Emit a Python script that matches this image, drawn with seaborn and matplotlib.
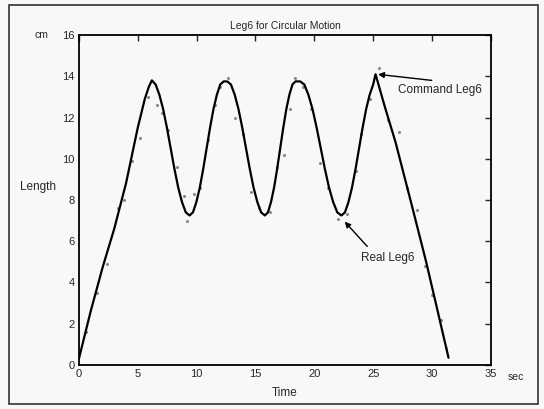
import matplotlib
matplotlib.use("Agg")
import matplotlib.pyplot as plt
import pandas as pd
import seaborn as sns
from matplotlib.patches import Rectangle

# Command Leg6 (solid curve)
time_sec = [0.0, 1.0, 2.0, 3.0, 4.0, 5.0, 5.6, 5.95, 6.2,
            6.52, 6.84, 7.16, 7.48, 7.8, 8.12, 8.44, 8.76, 9.08, 9.4,
            9.69, 9.98, 10.27, 10.56, 10.85, 11.14, 11.43, 11.72, 12.01, 12.3, 12.6,
            12.92, 13.24, 13.56, 13.88, 14.2, 14.52, 14.84, 15.16, 15.48, 15.8,
            16.06, 16.32, 16.58, 16.84, 17.1, 17.36, 17.62, 17.88, 18.14, 18.4, 18.8,
            19.15, 19.5, 19.85, 20.2, 20.55, 20.9, 21.25, 21.6, 21.95, 22.3,
            22.6, 22.9, 23.2, 23.5, 23.8, 24.1, 24.4, 24.7, 25.0, 25.2,
            26.0, 26.9, 28.3, 29.5, 30.4, 31.4]
length_cm = [0.3, 2.6, 4.7, 6.6, 8.8, 11.5, 12.9, 13.5, 13.8,
             13.6, 13.1, 12.4, 11.5, 10.5, 9.5, 8.6, 7.9, 7.4, 7.25,
             7.4, 7.9, 8.6, 9.5, 10.5, 11.5, 12.4, 13.1, 13.6, 13.75, 13.75,
             13.6, 13.1, 12.4, 11.5, 10.5, 9.5, 8.6, 7.9, 7.4, 7.25,
             7.4, 7.9, 8.6, 9.5, 10.5, 11.5, 12.4, 13.1, 13.6, 13.75, 13.75,
             13.6, 13.1, 12.4, 11.5, 10.5, 9.5, 8.6, 7.9, 7.4, 7.25,
             7.4, 7.9, 8.6, 9.5, 10.5, 11.5, 12.4, 13.1, 13.6, 14.1,
             12.5, 10.8, 7.7, 5.0, 2.8, 0.35]

# Real Leg6 (scattered measurement dots)
real_t = [0.6, 1.5, 2.4, 3.3, 3.8, 4.5, 5.2, 5.9, 6.6, 7.1, 7.6, 8.3,
          8.9, 9.2, 9.8, 10.3, 11.0, 11.6, 12.0, 12.7, 13.3, 13.9, 14.6,
          15.3, 16.2, 16.8, 17.4, 17.9, 18.4, 19.0, 19.7, 20.5, 21.2,
          22.0, 22.8, 23.5, 24.0, 24.7, 25.5, 26.3, 27.2, 27.9, 28.7,
          29.4, 30.0, 30.8, 31.2]
real_len = [1.6, 3.5, 4.9, 7.6, 8.0, 9.9, 11.0, 13.0, 12.6, 12.2, 11.4, 9.6,
            8.2, 7.0, 8.3, 8.6, 10.9, 12.6, 13.5, 13.9, 12.0, 11.2, 8.4,
            7.6, 7.4, 9.6, 10.2, 12.4, 13.9, 13.5, 12.4, 9.8, 8.6,
            7.1, 7.3, 9.4, 11.2, 12.9, 14.4, 11.9, 11.3, 8.6, 7.5,
            4.8, 3.4, 2.2, 0.8]

x_ticks = [0, 5, 10, 15, 20, 25, 30, 35]
y_ticks = [0, 2, 4, 6, 8, 10, 12, 14, 16]

sns.set_style("white")
plt.rcParams['font.family'] = ['Liberation Sans', 'DejaVu Sans']
plt.rcParams['font.size'] = 8

cmd = pd.DataFrame({'t': time_sec, 'len': length_cm})
real = pd.DataFrame({'t': real_t, 'len': real_len})

fig = plt.figure(figsize=(5.44, 4.09), dpi=100)
fig.patch.set_facecolor('#f8f8f8')
ax = fig.add_axes([0.145, 0.1076, 0.7574, 0.8068])
ax.set_facecolor('#f8f8f8')

# outer frame of the scanned figure
fig.patches.append(Rectangle((0.017, 0.012), 0.972, 0.975, transform=fig.transFigure,
                             fill=False, edgecolor='#333333', linewidth=1.2))

sns.scatterplot(data=real, x='t', y='len', ax=ax, color='#8a8a8a', s=5,
                linewidth=0, legend=False)
sns.lineplot(data=cmd, x='t', y='len', ax=ax, color='black', linewidth=1.6,
             sort=False, estimator=None)

ax.set_xlim(0, 35)
ax.set_ylim(0, 16)
ax.set_xticks(x_ticks)
ax.set_yticks(y_ticks)
ax.tick_params(direction='in', length=4, width=1, top=True, right=True,
               labeltop=False, labelright=False, labelsize=8, pad=3)
for s in ax.spines.values():
    s.set_linewidth(1.3)
    s.set_color('black')

ax.set_title("Leg6 for Circular Motion", fontsize=7.5, pad=4)
ax.set_xlabel("Time", fontsize=8.5, labelpad=6)
ax.set_ylabel("Length", fontsize=8.5, rotation=0, labelpad=10)
ax.yaxis.set_label_coords(-0.10, 0.52)
ax.text(-0.09, 1.0, "cm", transform=ax.transAxes, fontsize=7.5,
        ha='center', va='center')
ax.text(1.04, -0.035, "sec", transform=ax.transAxes, fontsize=7.5,
        ha='left', va='center')

ax.annotate("Command Leg6", xy=(25.3, 14.1), xytext=(27.1, 13.35),
            fontsize=8.5, va='center',
            arrowprops=dict(arrowstyle='-|>', color='black', lw=1,
                            shrinkA=0, shrinkB=1,
                            relpos=(0.75, 1.0)))
ax.annotate("Real Leg6", xy=(22.5, 7.0), xytext=(24.0, 5.2),
            fontsize=8.5, va='center',
            arrowprops=dict(arrowstyle='-|>', color='black', lw=1,
                            shrinkA=2, shrinkB=1, relpos=(0.2, 1.0)))

fig.savefig("out.png", dpi=100, facecolor=fig.get_facecolor())
